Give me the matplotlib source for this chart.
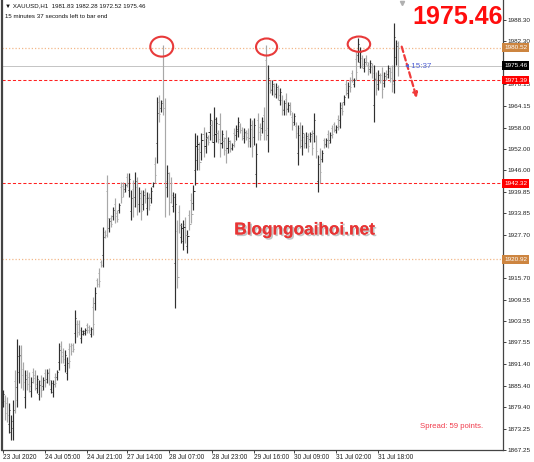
import numpy as np
import matplotlib.pyplot as plt
from matplotlib.patches import Ellipse
import matplotlib.patheffects as pe

plt.rcParams['font.family'] = ['Liberation Sans', 'DejaVu Sans']

# XAUUSD H1 bars
opens = [1880.8, 1881.0, 1880.4, 1874.5, 1872.2, 1873.5, 1886.8, 1885.1, 1889.3, 1893.8,
         1890.0, 1882.3, 1888.4, 1887.8, 1883.9, 1889.3, 1888.4, 1884.8, 1883.0, 1886.8,
         1885.2, 1888.8, 1887.3, 1889.1, 1884.4, 1883.6, 1887.9, 1887.8, 1892.1, 1896.4,
         1894.9, 1891.1, 1888.9, 1895.6, 1896.6, 1896.8, 1900.2, 1902.6, 1902.8, 1898.8,
         1900.0, 1900.2, 1902.3, 1901.9, 1899.9, 1907.6, 1908.6, 1915.1, 1917.2, 1920.2,
         1922.2, 1928.7, 1940.3, 1929.8, 1932.6, 1933.1, 1936.4, 1934.0, 1934.8, 1941.2,
         1941.7, 1940.6, 1944.2, 1940.5, 1934.5, 1940.7, 1938.6, 1941.4, 1936.4, 1938.3,
         1936.5, 1940.0, 1935.4, 1938.4, 1938.1, 1941.7, 1947.9, 1953.6, 1965.3, 1963.4,
         1965.5, 1963.5, 1941.2, 1942.5, 1942.3, 1936.0, 1920.0, 1929.0, 1934.2, 1927.2,
         1926.1, 1931.0, 1924.7, 1933.4, 1937.5, 1936.9, 1946.2, 1949.0, 1952.0, 1951.2,
         1956.1, 1952.7, 1955.2, 1956.8, 1958.7, 1954.0, 1956.1, 1956.4, 1959.0, 1953.8,
         1954.1, 1955.0, 1952.2, 1953.7, 1952.3, 1956.6, 1955.8, 1957.1, 1958.6, 1957.3,
         1955.0, 1956.6, 1956.6, 1955.0, 1957.6, 1955.4, 1945.0, 1960.2, 1958.1, 1957.8,
         1961.5, 1977.0, 1956.0, 1970.5, 1968.5, 1969.6, 1967.6, 1969.0, 1965.8, 1965.8,
         1962.9, 1966.2, 1963.2, 1964.3, 1961.1, 1959.7, 1958.5, 1950.8, 1957.8, 1952.8,
         1955.5, 1953.6, 1955.2, 1954.8, 1955.6, 1956.4, 1954.3, 1943.0, 1949.8, 1949.3,
         1954.4, 1953.3, 1956.1, 1954.6, 1957.8, 1958.9, 1957.2, 1960.5, 1960.1, 1964.3,
         1965.2, 1970.4, 1967.7, 1971.2, 1973.4, 1970.2, 1977.3, 1978.5, 1976.6, 1977.5,
         1974.8, 1977.7, 1975.6, 1974.5, 1975.2, 1964.4, 1972.0, 1970.3, 1972.7, 1972.9,
         1970.7, 1973.5, 1973.1, 1974.0, 1973.7, 1971.0, 1977.8, 1981.83]
highs = [1884.1, 1882.7, 1882.2, 1880.5, 1877.1, 1881.3, 1889.8, 1898.5, 1896.8, 1896.8,
         1892.0, 1889.8, 1889.8, 1889.2, 1887.8, 1890.3, 1889.8, 1888.4, 1887.0, 1888.4,
         1887.8, 1890.0, 1890.0, 1890.3, 1887.0, 1887.0, 1888.9, 1889.8, 1897.4, 1897.9,
         1896.0, 1895.4, 1893.4, 1897.4, 1897.4, 1897.4, 1906.7, 1903.8, 1903.8, 1901.9,
         1901.0, 1901.6, 1903.0, 1902.4, 1901.9, 1910.3, 1913.1, 1915.7, 1918.5, 1920.7,
         1930.0, 1929.2, 1944.7, 1932.6, 1933.4, 1935.7, 1938.2, 1934.8, 1936.8, 1942.7,
         1942.7, 1942.4, 1945.2, 1945.2, 1940.4, 1943.3, 1945.5, 1944.1, 1941.3, 1940.4,
         1940.4, 1941.0, 1939.9, 1939.6, 1941.3, 1942.7, 1949.7, 1966.6, 1967.2, 1965.8,
         1981.3, 1966.3, 1947.5, 1945.5, 1944.1, 1939.9, 1939.6, 1932.0, 1936.2, 1931.1,
         1932.0, 1932.8, 1929.2, 1934.8, 1939.6, 1941.8, 1956.5, 1955.9, 1953.9, 1956.5,
         1958.2, 1956.8, 1955.9, 1962.1, 1960.2, 1963.8, 1961.0, 1957.3, 1962.1, 1957.3,
         1955.4, 1957.3, 1955.4, 1954.5, 1953.7, 1957.9, 1958.7, 1961.0, 1959.3, 1958.2,
         1957.9, 1957.3, 1957.9, 1960.7, 1960.2, 1960.7, 1953.7, 1962.1, 1959.3, 1961.0,
         1963.8, 1981.3, 1975.6, 1971.4, 1971.4, 1970.6, 1970.6, 1970.0, 1969.2, 1967.2,
         1965.8, 1967.7, 1965.2, 1965.2, 1962.4, 1962.1, 1959.6, 1958.7, 1959.6, 1958.7,
         1956.5, 1956.8, 1956.5, 1956.8, 1957.3, 1962.1, 1955.9, 1950.3, 1952.3, 1951.7,
         1955.1, 1955.1, 1957.3, 1956.8, 1958.7, 1959.6, 1958.7, 1961.6, 1965.2, 1965.2,
         1967.2, 1971.4, 1970.8, 1972.3, 1974.2, 1972.0, 1979.3, 1983.2, 1980.7, 1978.4,
         1977.6, 1978.4, 1976.5, 1977.0, 1976.2, 1975.6, 1973.6, 1974.2, 1973.4, 1975.1,
         1973.6, 1974.2, 1975.6, 1975.1, 1975.6, 1987.5, 1982.7, 1982.28]
lows = [1879.4, 1875.7, 1875.1, 1872.0, 1870.1, 1870.1, 1877.7, 1879.4, 1886.1, 1884.7,
        1884.1, 1879.1, 1884.1, 1883.6, 1882.2, 1886.1, 1884.1, 1883.3, 1881.3, 1882.2,
        1884.1, 1885.0, 1886.1, 1885.5, 1883.3, 1882.2, 1885.0, 1887.0, 1889.8, 1891.7,
        1891.7, 1889.2, 1887.0, 1890.3, 1894.0, 1894.8, 1897.4, 1899.1, 1899.6, 1897.4,
        1899.6, 1899.6, 1900.2, 1900.2, 1899.1, 1899.6, 1906.7, 1913.1, 1913.1, 1918.8,
        1918.8, 1927.0, 1927.2, 1928.6, 1930.0, 1932.0, 1931.1, 1931.4, 1934.0, 1936.8,
        1938.5, 1939.9, 1941.3, 1938.5, 1932.0, 1932.8, 1935.7, 1933.4, 1934.3, 1932.0,
        1934.8, 1936.8, 1933.4, 1934.8, 1936.8, 1941.3, 1942.4, 1948.0, 1959.6, 1962.4,
        1961.5, 1932.8, 1938.5, 1933.4, 1936.8, 1934.3, 1907.2, 1912.9, 1928.3, 1925.5,
        1923.6, 1925.5, 1922.7, 1929.2, 1931.1, 1934.8, 1941.8, 1946.1, 1946.1, 1948.9,
        1949.7, 1950.9, 1953.1, 1954.5, 1954.0, 1949.7, 1954.0, 1953.7, 1949.7, 1952.3,
        1950.3, 1948.0, 1950.9, 1951.1, 1951.7, 1952.6, 1954.5, 1955.4, 1956.5, 1954.5,
        1953.7, 1954.5, 1952.6, 1952.6, 1949.7, 1953.1, 1941.3, 1954.5, 1954.5, 1956.5,
        1954.5, 1954.5, 1951.1, 1967.7, 1967.2, 1966.6, 1966.3, 1965.8, 1964.4, 1961.6,
        1961.6, 1961.6, 1962.4, 1961.6, 1957.3, 1958.7, 1955.1, 1947.5, 1952.3, 1950.3,
        1952.3, 1952.3, 1951.1, 1954.0, 1950.3, 1954.0, 1949.4, 1939.9, 1942.4, 1948.3,
        1952.3, 1952.6, 1952.3, 1953.7, 1955.1, 1956.8, 1956.5, 1957.3, 1957.9, 1961.6,
        1964.4, 1967.2, 1966.3, 1968.0, 1970.8, 1969.4, 1971.4, 1976.5, 1974.8, 1974.8,
        1973.6, 1975.6, 1972.8, 1973.4, 1972.0, 1959.6, 1967.2, 1968.6, 1970.6, 1966.3,
        1969.4, 1971.4, 1972.0, 1970.8, 1968.0, 1967.7, 1975.6, 1972.52]
closes = [1882.9, 1877.8, 1877.2, 1878.4, 1875.4, 1878.5, 1881.3, 1893.7, 1894.1, 1888.3,
          1886.5, 1887.1, 1885.8, 1885.3, 1886.4, 1887.4, 1885.8, 1887.1, 1885.6, 1884.1,
          1886.9, 1886.5, 1889.0, 1886.9, 1886.1, 1885.8, 1886.2, 1889.1, 1895.5, 1893.6,
          1893.0, 1893.9, 1891.8, 1892.4, 1895.0, 1895.6, 1904.4, 1900.5, 1900.9, 1900.8,
          1900.7, 1901.1, 1901.0, 1900.9, 1901.2, 1902.8, 1911.5, 1913.9, 1914.7, 1919.4,
          1927.2, 1927.7, 1932.5, 1931.6, 1931.0, 1934.8, 1933.2, 1932.4, 1936.1, 1938.6,
          1939.8, 1941.8, 1942.5, 1943.5, 1938.3, 1936.0, 1943.1, 1936.6, 1939.5, 1934.5,
          1939.0, 1938.1, 1938.3, 1936.2, 1940.2, 1942.4, 1944.6, 1962.0, 1961.9, 1965.0,
          1963.5, 1943.0, 1945.2, 1937.0, 1939.0, 1938.5, 1936.5, 1916.0, 1930.7, 1929.7,
          1929.9, 1927.7, 1927.6, 1930.9, 1933.7, 1940.1, 1952.8, 1953.5, 1948.4, 1954.6,
          1952.3, 1955.3, 1954.0, 1960.2, 1955.9, 1960.3, 1959.3, 1954.8, 1953.4, 1956.1,
          1951.8, 1950.8, 1954.3, 1952.1, 1953.2, 1954.2, 1957.6, 1959.6, 1957.3, 1955.6,
          1956.8, 1955.3, 1954.2, 1958.7, 1952.9, 1958.8, 1950.6, 1956.8, 1956.0, 1959.9,
          1957.3, 1958.0, 1972.0, 1968.8, 1970.4, 1967.8, 1969.5, 1967.1, 1968.0, 1963.3,
          1964.8, 1963.4, 1964.5, 1962.7, 1958.8, 1961.3, 1956.4, 1955.9, 1954.5, 1956.6,
          1953.6, 1955.7, 1952.7, 1956.1, 1952.4, 1960.1, 1951.4, 1947.7, 1945.4, 1950.9,
          1953.1, 1954.5, 1953.8, 1956.0, 1956.2, 1957.6, 1958.2, 1958.6, 1963.4, 1962.7,
          1966.5, 1968.5, 1969.7, 1969.3, 1971.8, 1971.4, 1973.8, 1981.5, 1979.2, 1975.9,
          1976.6, 1976.4, 1973.9, 1976.1, 1973.3, 1971.6, 1969.1, 1972.8, 1971.4, 1969.0,
          1972.6, 1972.3, 1974.7, 1972.1, 1970.3, 1983.5, 1980.9, 1975.46]

x_labels = ['23 Jul 2020', '24 Jul 05:00', '24 Jul 21:00', '27 Jul 14:00', '28 Jul 07:00',
            '28 Jul 23:00', '29 Jul 16:00', '30 Jul 09:00', '31 Jul 02:00', '31 Jul 18:00']
x_label_bars = [0, 21, 42, 62, 83, 104, 125, 145, 166, 187]

y_ticks = [1988.30, 1982.30, 1976.15, 1970.15, 1964.15, 1958.00, 1952.00, 1946.00, 1939.85,
           1933.85, 1927.70, 1921.70, 1915.70, 1909.55, 1903.55, 1897.55, 1891.40, 1885.40,
           1879.40, 1873.25, 1867.25]
# these two scale labels sit under the price boxes
y_hidden = [1976.15, 1921.70]

level_orange = [1980.52, 1920.92]
level_red = [1971.39, 1942.32]
bid = 1975.46

idx = np.arange(len(opens))
o = np.array(opens); h = np.array(highs); l = np.array(lows); c = np.array(closes)
cols = np.where(c >= o, '#303030', '#a8a8a8')

fig = plt.figure(figsize=(5.34, 4.62), dpi=100)
ax = fig.add_axes([2/534, 12/462, 501/534, 450/462])
ax.set_xlim(-0.35, 249.15)
ax.set_ylim(1867.25, 1993.93)

# levels
for lv in level_orange:
    ax.axhline(lv, color='#f2b88a', lw=0.9, ls=(0, (1, 1.6)), zorder=1)
for lv in level_red:
    ax.axhline(lv, color='#ff2020', lw=0.75, ls=(0, (3, 2)), zorder=1)
ax.axhline(bid, color='#c4c4c4', lw=0.7, zorder=1)

# OHLC bars
ax.vlines(idx, l, h, colors=cols, lw=0.85, zorder=3)
ax.hlines(o, idx - 0.55, idx, colors=cols, lw=0.7, zorder=3)
ax.hlines(c, idx, idx + 0.55, colors=cols, lw=0.7, zorder=3)

# axes frame
ax.spines['top'].set_visible(False)
for s in ['left', 'bottom', 'right']:
    ax.spines[s].set_color('#444444')
    ax.spines[s].set_linewidth(0.9)
ax.spines['left'].set_linewidth(1.6)

ax.yaxis.tick_right()
ax.set_yticks(y_ticks)
ax.set_yticklabels(['' if v in y_hidden else '%.2f' % v for v in y_ticks])
ax.tick_params(axis='y', direction='out', length=2.2, width=0.6, pad=1.2,
               labelsize=4.6, colors='#222222')
ax.set_xticks(x_label_bars)
ax.set_xticklabels(x_labels)
ax.tick_params(axis='x', direction='out', length=2.2, width=0.6, pad=1.0,
               labelsize=4.7, colors='#222222')
for t in ax.get_xticklabels():
    t.set_ha('left')

# price boxes on the scale
boxes = [(1980.52, '#cd8540'), (1975.46, '#000000'), (1971.39, '#ff0000'),
         (1942.32, '#ff0000'), (1920.92, '#cd8540')]
for val, bc in boxes:
    ax.text(1.002, val, '%.2f' % val, transform=ax.get_yaxis_transform(),
            ha='left', va='center', fontsize=4.6, color='white', zorder=10,
            bbox=dict(boxstyle='square,pad=0.3', fc=bc, ec='none'), clip_on=False)

# circles around the tops
for cx, cy, w, hh in [(79.2, 1980.8, 11.4, 5.6), (131.4, 1980.7, 10.5, 4.8),
                      (177.4, 1981.5, 11.2, 4.3)]:
    ax.add_patch(Ellipse((cx, cy), w, hh, fill=False, ec='#e83a3a', lw=1.5, zorder=6))

# dashed arrow
ax.annotate('', xy=(206.2, 1966.3), xytext=(198.7, 1980.8),
            arrowprops=dict(arrowstyle='-|>', color='#f03a3a', lw=1.6,
                            ls=(0, (2.5, 1.5)), mutation_scale=7, shrinkA=0, shrinkB=0),
            zorder=7)
ax.text(200.5, 1975.2, '\u25c2 15:37', fontsize=5.8, color='#5262d6', ha='left',
        va='center', zorder=7)
ax.plot([198.9], [1993.2], marker='v', ms=3, color='#b0b0b0', clip_on=False)

# texts
fig.text(5/534, 1 - 6/462, '\u25bc XAUUSD,H1  1981.83 1982.28 1972.52 1975.46',
         fontsize=4.4, color='#111111', va='center', ha='left')
fig.text(5/534, 1 - 16/462, '15 minutes 37 seconds left to bar end',
         fontsize=4.4, color='#111111', va='center', ha='left')
fig.text(458/534, 1 - 17/462, '1975.46', fontsize=18, fontweight='bold',
         color='#ff0d0d', ha='center', va='center')
ax.text(0.604, 0.489, 'Blogngoaihoi.net', transform=ax.transAxes, fontsize=12.4,
        fontweight='bold', color='#e83535', ha='center', va='center', zorder=8,
        path_effects=[pe.withSimplePatchShadow(offset=(1.2, -1.2), shadow_rgbFace='#888888',
                                                alpha=0.5), pe.Normal()])
fig.text(483/534, 1 - 426.7/462, 'Spread: 59 points.', fontsize=5.6, color='#f03c4c',
         ha='right', va='center')

fig.savefig('out.png', dpi=100)
